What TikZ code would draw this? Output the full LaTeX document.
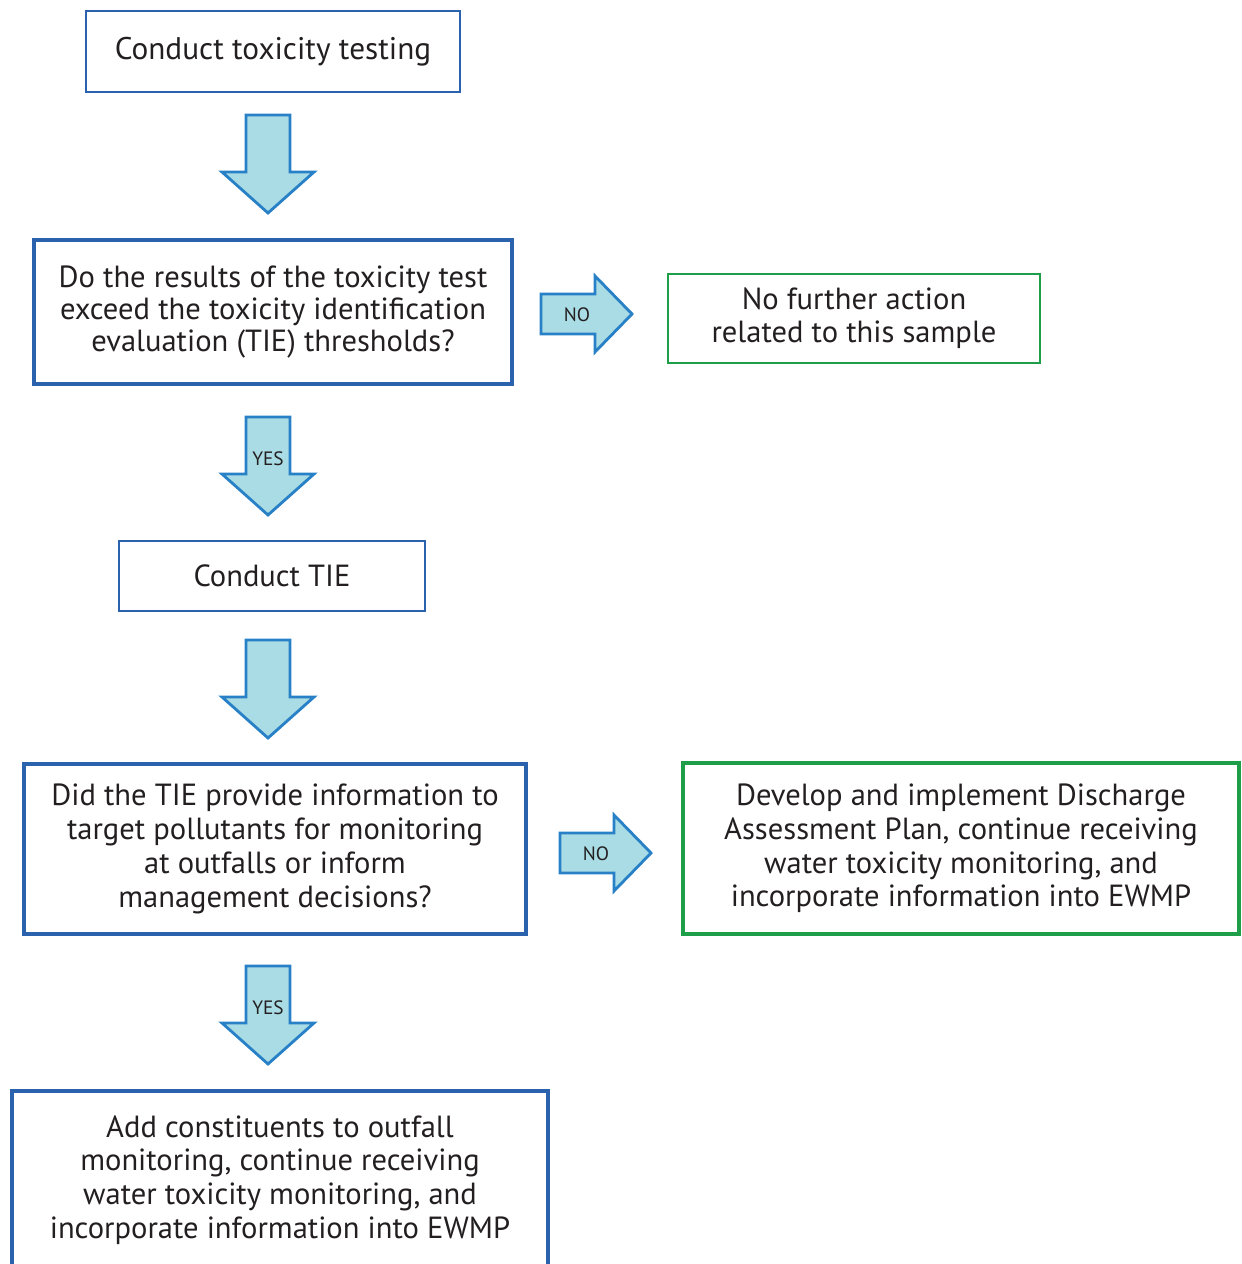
\documentclass[tikz,border=0pt]{standalone}
\usepackage{fontspec}
\setmainfont{PT Sans}
\definecolor{boxblue}{HTML}{2B62AE}
\definecolor{boxgreen}{HTML}{1E9E48}
\definecolor{arrblue}{HTML}{2880C6}
\definecolor{arrfill}{HTML}{A9DCE4}
\definecolor{txt}{HTML}{231F20}
\tikzset{
  box/.style={draw=boxblue, line width=1.1pt, rectangle, align=center, text=txt, font=\fontsize{17.4}{19.2}\selectfont},
  thickbox/.style={box, line width=2pt},
  okbox/.style={box, draw=boxgreen, line width=1.5pt},
  okthickbox/.style={box, draw=boxgreen, line width=2.2pt},
  arrline/.style={draw=arrblue, fill=arrfill, line width=1.6pt, line join=miter},
  lbl/.style={text=txt, font=\fontsize{11}{12}\selectfont, inner sep=0pt},
  downarr/.pic={\path[arrline] (-22,0) -- (-22,57) -- (-46,57) -- (0,98) -- (46,57) -- (22,57) -- (22,0) -- cycle;},
  rightarr/.pic={\path[arrline] (0,-20) -- (54,-20) -- (54,-38) -- (91,0) -- (54,38) -- (54,20) -- (0,20) -- cycle;}
}
\begin{document}
\begin{tikzpicture}[x=0.02cm, y=-0.02cm]
\useasboundingbox (0,0) rectangle (1241,1264);
% Boxes
\node[box, minimum width=7.48cm, minimum height=1.62cm, font=\fontsize{17.8}{19.2}\selectfont] (test) at (273,51.5) {Conduct toxicity testing};
\node[thickbox, minimum width=9.56cm, minimum height=2.88cm, font=\fontsize{17.4}{18.2}\selectfont] (exceed) at (273,312) {Do the results of the toxicity test\\ exceed the toxicity identification\\ evaluation (TIE) thresholds?};
\node[okbox, minimum width=7.44cm, minimum height=1.78cm, font=\fontsize{17.4}{18.6}\selectfont] (noaction) at (854,318.5) {No further action\\ related to this sample};
\node[box, minimum width=6.12cm, minimum height=1.4cm] (tie) at (272,576) {Conduct TIE};
\node[thickbox, minimum width=10.04cm, minimum height=3.4cm] (target) at (275,849) {Did the TIE provide information to\\ target pollutants for monitoring\\ at outfalls or inform\\ management decisions?};
\node[okthickbox, minimum width=11.12cm, minimum height=3.42cm] (dap) at (961,848.5) {Develop and implement Discharge\\ Assessment Plan, continue receiving\\ water toxicity monitoring, and\\ incorporate information into EWMP};
\node[thickbox, minimum width=10.72cm, minimum height=3.56cm] (addcon) at (280,1180) {Add constituents to outfall\\ monitoring, continue receiving\\ water toxicity monitoring, and\\ incorporate information into EWMP};

% Block arrows
\pic at (268,115) {downarr};
\pic at (268,417) {downarr};
\pic at (268,640) {downarr};
\pic at (268,966) {downarr};
\pic at (541,314) {rightarr};
\pic at (560,853) {rightarr};

% Labels
\node[lbl] (yes1) at (268,459) {YES};
\node[lbl] (yes2) at (268,1008) {YES};
\node[lbl] (no1) at (577,315) {NO};
\node[lbl] (no2) at (596,854) {NO};
\end{tikzpicture}
\end{document}
